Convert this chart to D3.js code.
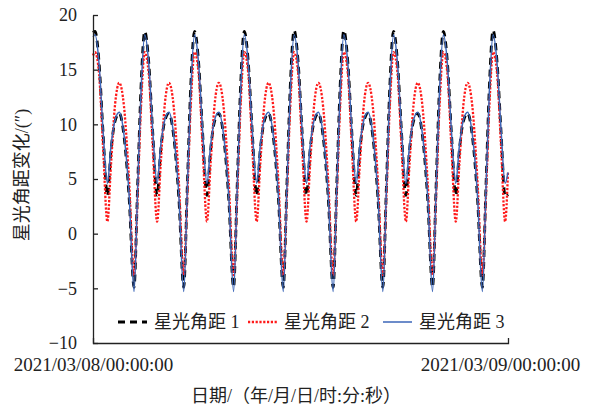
<!DOCTYPE html>
<html><head><meta charset="utf-8">
<script src="https://cdn.jsdelivr.net/npm/d3@7"></script>
<style>
body{margin:0;background:#fff}
text{font-family:"Liberation Serif","Times New Roman","Noto Sans CJK SC",serif;fill:#222}
</style>
</head><body>
<svg id="c" width="602" height="406"></svg>
<script>
// time in hours since 2021/03/08 00:00:00
const times = [0,
 0.12, 0.36, 0.59, 0.85, 1.06, 1.30, 1.55, 1.83, 2.13, 2.42, 2.63, 2.83,
 3.05, 3.29, 3.52, 3.78, 3.99, 4.23, 4.48, 4.76, 5.06, 5.35, 5.56, 5.76,
 5.99, 6.23, 6.46, 6.72, 6.93, 7.17, 7.42, 7.70, 8.00, 8.29, 8.50, 8.70,
 8.92, 9.16, 9.39, 9.65, 9.86, 10.10, 10.35, 10.63, 10.93, 11.22, 11.43, 11.63,
 11.86, 12.10, 12.33, 12.59, 12.80, 13.04, 13.29, 13.57, 13.87, 14.16, 14.37, 14.57,
 14.79, 15.03, 15.26, 15.52, 15.73, 15.97, 16.22, 16.50, 16.80, 17.09, 17.30, 17.50,
 17.72, 17.96, 18.19, 18.45, 18.66, 18.90, 19.15, 19.43, 19.73, 20.02, 20.23, 20.43,
 20.66, 20.90, 21.13, 21.39, 21.60, 21.84, 22.09, 22.37, 22.67, 22.96, 23.17, 23.37,
 23.59, 23.83, 24.06, 24.30, 24.47];

const series1 = [18.4,
 18.5, 15.6, 9.3, 3.5, 7.6, 10.3, 11.0, 8.9, 3.3, -4.9, 4.3, 13.4,
 18.5, 15.6, 9.3, 3.5, 7.6, 10.3, 11.0, 8.9, 3.3, -4.9, 4.3, 13.4,
 18.5, 15.6, 9.3, 3.5, 7.6, 10.3, 11.0, 8.9, 3.3, -4.9, 4.3, 13.4,
 18.5, 15.6, 9.3, 3.5, 7.6, 10.3, 11.0, 8.9, 3.3, -4.9, 4.3, 13.4,
 18.6, 15.6, 9.3, 3.5, 7.6, 10.3, 11.0, 8.9, 3.3, -4.9, 4.3, 13.4,
 18.6, 15.6, 9.3, 3.5, 7.6, 10.3, 11.0, 8.9, 3.3, -4.9, 4.3, 13.4,
 18.5, 15.6, 9.3, 3.5, 7.6, 10.3, 11.0, 8.9, 3.3, -4.9, 4.3, 13.4,
 18.5, 15.6, 9.3, 3.5, 7.6, 10.3, 11.0, 8.9, 3.3, -4.9, 4.3, 13.4,
 18.6, 15.6, 9.3, 3.4, 3.6];

const series2 = [16.3,
 16.6, 14.6, 8.0, 1.1, 6.3, 11.8, 13.8, 11.6, 4.8, -3.8, 3.5, 11.6,
 16.6, 14.6, 8.0, 1.1, 6.3, 11.8, 13.8, 11.6, 4.8, -3.8, 3.5, 11.6,
 16.6, 14.6, 8.0, 1.1, 6.3, 11.8, 13.8, 11.6, 4.8, -3.8, 3.5, 11.6,
 16.6, 14.6, 8.0, 1.1, 6.3, 11.8, 13.8, 11.6, 4.8, -3.8, 3.5, 11.6,
 16.6, 14.6, 8.0, 1.1, 6.3, 11.8, 13.8, 11.6, 4.8, -3.8, 3.5, 11.6,
 16.6, 14.6, 8.0, 1.1, 6.3, 11.8, 13.8, 11.6, 4.8, -3.8, 3.5, 11.6,
 16.6, 14.6, 8.0, 1.1, 6.3, 11.8, 13.8, 11.6, 4.8, -3.8, 3.5, 11.6,
 16.6, 14.6, 8.0, 1.1, 6.3, 11.8, 13.8, 11.6, 4.8, -3.8, 3.5, 11.6,
 16.6, 14.6, 8.0, 1.1, 5.7];

const series3 = [18.0,
 18.2, 15.5, 9.5, 4.6, 8.0, 10.4, 11.1, 9.0, 3.5, -5.3, 4.0, 13.0,
 18.2, 15.5, 9.5, 4.6, 8.0, 10.4, 11.1, 9.0, 3.5, -5.3, 4.0, 13.0,
 18.2, 15.5, 9.5, 4.6, 8.0, 10.4, 11.1, 9.0, 3.5, -5.3, 4.0, 13.0,
 18.2, 15.5, 9.5, 4.6, 8.0, 10.4, 11.1, 9.0, 3.5, -5.3, 4.0, 13.0,
 18.2, 15.5, 9.5, 4.6, 8.0, 10.4, 11.1, 9.0, 3.5, -5.3, 4.0, 13.0,
 18.2, 15.5, 9.5, 4.6, 8.0, 10.4, 11.1, 9.0, 3.5, -5.3, 4.0, 13.0,
 18.2, 15.5, 9.5, 4.6, 8.0, 10.4, 11.1, 9.0, 3.5, -5.3, 4.0, 13.0,
 18.2, 15.5, 9.5, 4.6, 8.0, 10.4, 11.1, 9.0, 3.5, -5.3, 4.0, 13.0,
 18.2, 15.5, 9.5, 4.6, 5.6];

const seriesNames = ["星光角距 1", "星光角距 2", "星光角距 3"];
const yTicks = [-10, -5, 0, 5, 10, 15, 20];
const xTickHours = [0, 24];
const xTickLabels = ["2021/03/08/00:00:00", "2021/03/09/00:00:00"];
const yTitle = "星光角距变化/(″)";
const xTitle = "日期/（年/月/日/时:分:秒）";

const svg = d3.select("#c");
const x = d3.scaleLinear().domain([0, 24.47]).range([93, 508]);
const y = d3.scaleLinear().domain([-10, 20]).range([343, 15]);

const styles = [
  {color: "#000000", width: 2.8, dash: "7,5"},
  {color: "#ff1a1a", width: 2.3, dash: "2.2,1.6"},
  {color: "#3b66b8", width: 1.5, dash: null}
];
const allSeries = [series1, series2, series3];

const line = d3.line()
  .x((d, i) => x(times[i]))
  .y(d => y(d))
  .curve(d3.curveMonotoneX);

allSeries.forEach((s, k) => {
  svg.append("path")
    .datum(s)
    .attr("d", line)
    .attr("fill", "none")
    .attr("stroke", styles[k].color)
    .attr("stroke-width", styles[k].width)
    .attr("stroke-dasharray", styles[k].dash);
});

// y axis
const gy = svg.append("g").attr("transform", "translate(93,0)")
  .call(d3.axisLeft(y).tickValues(yTicks).tickSizeInner(-5).tickSizeOuter(0).tickPadding(16)
    .tickFormat(d => d < 0 ? "\u2212" + Math.abs(d) : d));
gy.selectAll("text").style("font-size", "18px").attr("fill", "#222");
gy.selectAll("line,path").attr("stroke", "#222").attr("stroke-width", 1.3);

// x axis
const gx = svg.append("g").attr("transform", "translate(0,343)")
  .call(d3.axisBottom(x).tickValues(xTickHours).tickSizeInner(0).tickSizeOuter(-5).tickPadding(15)
    .tickFormat((d, i) => xTickLabels[i]));
gx.selectAll("text").style("font-size", "19px").attr("fill", "#222");
gx.selectAll("line,path").attr("stroke", "#222").attr("stroke-width", 1.3);

// titles
svg.append("text")
  .attr("transform", "translate(22,175) rotate(-90)")
  .attr("text-anchor", "middle").attr("dominant-baseline", "central")
  .style("font-size", "18px").text(yTitle);
svg.append("text")
  .attr("x", 296).attr("y", 396)
  .attr("text-anchor", "middle").attr("dominant-baseline", "central")
  .style("font-size", "18px").text(xTitle);

// legend
const legX = [118, 248, 383];
const legY = 322;
seriesNames.forEach((n, k) => {
  svg.append("line")
    .attr("x1", legX[k]).attr("x2", legX[k] + 29)
    .attr("y1", legY).attr("y2", legY)
    .attr("stroke", styles[k].color)
    .attr("stroke-width", styles[k].width)
    .attr("stroke-dasharray", styles[k].dash);
  svg.append("text")
    .attr("x", legX[k] + 36).attr("y", legY)
    .attr("dominant-baseline", "central")
    .style("font-size", "18px").text(n);
});
</script>
</body></html>
